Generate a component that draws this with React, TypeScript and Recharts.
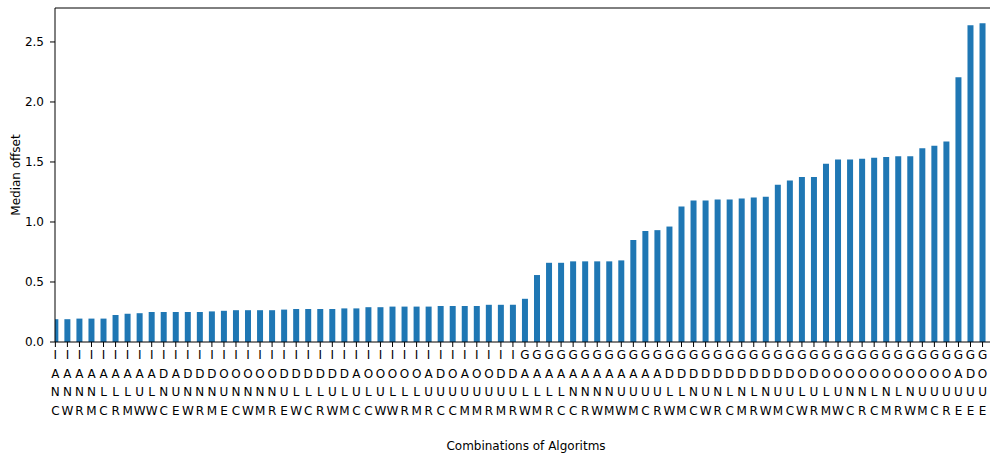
import { BarChart, Bar, XAxis, YAxis, ReferenceLine, Label } from 'recharts'

// combination codes, sorted by median offset (one letter per line under each bar)
const combos = [
  'IANC', 'IANW', 'IANR', 'IANM', 'IALC', 'IALR', 'IALM', 'IAUW', 'IALW', 'IDNC',
  'IAUE', 'IDNW', 'IDNR', 'IDNM', 'IOUE', 'IONC', 'IONW', 'IONM', 'IONR', 'IDUE',
  'IDLW', 'IDLC', 'IDLR', 'IDUW', 'IDLM', 'IAUC', 'IOLC', 'IOUW', 'IOLW', 'IOLR',
  'IOLM', 'IAUR', 'IDUC', 'IOUC', 'IAUM', 'IOUM', 'IOUR', 'IDUM', 'IDUR', 'GALW',
  'GALM', 'GALR', 'GALC', 'GANC', 'GANR', 'GANW', 'GANM', 'GAUW', 'GAUM', 'GAUC',
  'GAUR', 'GDLW', 'GDLM', 'GDNC', 'GDUW', 'GDNR', 'GDLC', 'GDNM', 'GDLR', 'GDNW',
  'GDUM', 'GDUC', 'GOLW', 'GDUR', 'GOLM', 'GOUW', 'GONC', 'GONR', 'GOLC', 'GONM',
  'GOLR', 'GONW', 'GOUM', 'GOUC', 'GOUR', 'GAUE', 'GDUE', 'GOUE',
]

const medianOffset = [
  0.19, 0.19, 0.195, 0.195, 0.195, 0.225, 0.235, 0.24, 0.25, 0.25,
  0.25, 0.25, 0.25, 0.255, 0.26, 0.265, 0.265, 0.265, 0.265, 0.27,
  0.275, 0.275, 0.275, 0.275, 0.28, 0.28, 0.29, 0.29, 0.295, 0.295,
  0.295, 0.295, 0.3, 0.3, 0.3, 0.3, 0.31, 0.31, 0.31, 0.36,
  0.558, 0.66, 0.66, 0.672, 0.672, 0.672, 0.672, 0.68, 0.85, 0.925,
  0.932, 0.962, 1.13, 1.18, 1.18, 1.187, 1.187, 1.195, 1.203, 1.21,
  1.31, 1.345, 1.375, 1.375, 1.485, 1.52, 1.52, 1.527, 1.535, 1.542,
  1.548, 1.548, 1.615, 1.635, 1.67, 2.205, 2.64, 2.655,
]

const yTicks = [0, 0.5, 1.0, 1.5, 2.0, 2.5]
const yMax = 2.783

const data = combos.map((combo, i) => ({ idx: i, combo, offset: medianOffset[i] }))
const xTicks = combos.map((_, i) => i)

const font = 'DejaVu Sans, sans-serif'

function ComboTick(props: any) {
  const { x, y, payload } = props
  const letters = (combos[payload.value] || '').split('')
  return (
    <text x={x} y={y} textAnchor="middle" fontFamily={font} fontSize={12} fill="#000">
      {letters.map((ch, i) => (
        <tspan key={i} x={x} dy={i === 0 ? 12 : 18.7}>{ch}</tspan>
      ))}
    </text>
  )
}

function YTitle(props: any) {
  const vb = props.viewBox
  const x = vb.x + 16
  const y = vb.y + vb.height / 2
  return (
    <text x={x} y={y} transform={`rotate(-90, ${x}, ${y})`} textAnchor="middle"
          dominantBaseline="central" fontFamily={font} fontSize={12} fill="#000">
      Median offset
    </text>
  )
}

function XTitle(props: any) {
  const vb = props.viewBox
  return (
    <text x={vb.x + vb.width / 2} y={vb.y + 108} textAnchor="middle"
          fontFamily={font} fontSize={12} fill="#000">
      Combinations of Algoritms
    </text>
  )
}

export default function App() {
  return (
    <div style={{ position: 'absolute', left: 0, top: 0, width: 990, height: 456, overflow: 'hidden', background: '#fff' }}>
      <BarChart width={998} height={456} data={data} margin={{ top: 8, right: 1, left: 0, bottom: 0 }}>
        <XAxis
          dataKey="idx"
          type="number"
          domain={[-0.03, 78.2]}
          ticks={xTicks}
          interval={0}
          allowDataOverflow
          height={114}
          tickSize={5}
          tickMargin={0}
          tick={<ComboTick />}
          stroke="#000"
          tickLine={{ stroke: '#000' }}
        >
          <Label content={<XTitle />} />
        </XAxis>
        <YAxis
          type="number"
          domain={[0, yMax]}
          ticks={yTicks}
          width={55}
          tickSize={5}
          tickMargin={6}
          tickFormatter={(v: number) => v.toFixed(1)}
          tick={{ fill: '#000', fontFamily: font, fontSize: 12 }}
          stroke="#000"
          tickLine={{ stroke: '#000' }}
        >
          <Label content={<YTitle />} />
        </YAxis>
        <ReferenceLine y={yMax} stroke="#000" strokeWidth={1} />
        <Bar dataKey="offset" fill="#1f77b4" barSize={6} isAnimationActive={false} />
      </BarChart>
    </div>
  )
}
